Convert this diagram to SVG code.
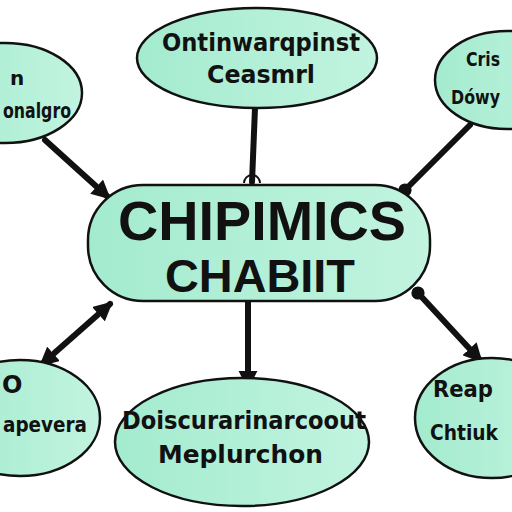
<svg xmlns="http://www.w3.org/2000/svg" width="512" height="512" viewBox="0 0 512 512">
<style>
.node{fill:url(#g);stroke:#111;stroke-width:2.5}
.t{font-family:"DejaVu Sans","Liberation Sans",sans-serif;font-weight:bold;fill:#111}
.big{font-family:"Liberation Sans","DejaVu Sans",sans-serif;font-weight:bold;fill:#111}
.c{stroke:#111;stroke-width:6;fill:none;stroke-linecap:round}
</style>
<defs>
<linearGradient id="g" x1="0" y1="0" x2="1" y2="0">
<stop offset="0" stop-color="#a3ebcf"/>
<stop offset="1" stop-color="#c2f4e0"/>
</linearGradient>
<marker id="ah" viewBox="0 0 10 10" refX="8" refY="5" markerWidth="3.2" markerHeight="3.2" orient="auto-start-reverse" markerUnits="strokeWidth">
<path d="M0,0 L10,5 L0,10 z" fill="#111"/>
</marker>
<marker id="dot" viewBox="0 0 10 10" refX="5" refY="5" markerWidth="2.2" markerHeight="2.2" markerUnits="strokeWidth">
<circle cx="5" cy="5" r="5" fill="#111"/>
</marker>
</defs>
<rect width="512" height="512" fill="#fff"/>
<g id="connectors">
<line class="c" x1="45" y1="140" x2="108" y2="197" marker-end="url(#ah)"/>
<line class="c" x1="255" y1="108" x2="252" y2="182"/>
<path d="M244,183 A8,8 0 0 1 260,183" fill="none" stroke="#111" stroke-width="2"/>
<line class="c" x1="470" y1="125" x2="405" y2="190" marker-end="url(#dot)"/>
<line class="c" x1="110" y1="304" x2="42" y2="364" marker-start="url(#ah)" marker-end="url(#ah)"/>
<line class="c" x1="248" y1="302" x2="248" y2="386" marker-end="url(#ah)"/>
<line class="c" x1="418" y1="293" x2="480" y2="360" marker-start="url(#dot)" marker-end="url(#ah)"/>
</g>
<g id="node-top-left">
<ellipse class="node" cx="5" cy="93" rx="77" ry="50"/>
<text class="t" x="10" y="85" font-size="20">n</text>
<text class="t" x="3" y="118" font-size="21" textLength="68" lengthAdjust="spacingAndGlyphs">onalgro</text>
</g>
<g id="node-top">
<ellipse class="node" cx="257" cy="58" rx="120" ry="50"/>
<text class="t" x="162" y="51" font-size="24" textLength="198" lengthAdjust="spacingAndGlyphs">Ontinwarqpinst</text>
<text class="t" x="207" y="83" font-size="24" textLength="108" lengthAdjust="spacingAndGlyphs">Ceasmrl</text>
</g>
<g id="node-top-right">
<ellipse class="node" cx="507" cy="80" rx="72" ry="49"/>
<text class="t" x="466" y="66" font-size="20" textLength="34" lengthAdjust="spacingAndGlyphs">Cris</text>
<text class="t" x="451" y="104" font-size="20" textLength="49" lengthAdjust="spacingAndGlyphs">Dówy</text>
</g>
<g id="node-center">
<rect class="node" x="88" y="185" width="342" height="116" rx="55" ry="55"/>
<text class="big" x="118" y="240" font-size="56" textLength="288" lengthAdjust="spacingAndGlyphs">CHIPIMICS</text>
<text class="big" x="165" y="292" font-size="46" textLength="190" lengthAdjust="spacingAndGlyphs">CHABIIT</text>
</g>
<g id="node-bottom-left">
<ellipse class="node" cx="20" cy="418" rx="80" ry="58"/>
<text class="t" x="2" y="393" font-size="24">O</text>
<text class="t" x="3" y="432" font-size="21" textLength="84" lengthAdjust="spacingAndGlyphs">apevera</text>
</g>
<g id="node-bottom">
<ellipse class="node" cx="242" cy="442" rx="127" ry="64"/>
<text class="t" x="122" y="429" font-size="24" textLength="244" lengthAdjust="spacingAndGlyphs">Doiscurarinarcoout</text>
<text class="t" x="158" y="463" font-size="24" textLength="165" lengthAdjust="spacingAndGlyphs">Meplurchon</text>
</g>
<g id="node-bottom-right">
<ellipse class="node" cx="492" cy="418" rx="77" ry="60"/>
<text class="t" x="433" y="397" font-size="23" textLength="60" lengthAdjust="spacingAndGlyphs">Reap</text>
<text class="t" x="430" y="440" font-size="22" textLength="68" lengthAdjust="spacingAndGlyphs">Chtiuk</text>
</g>
</svg>
